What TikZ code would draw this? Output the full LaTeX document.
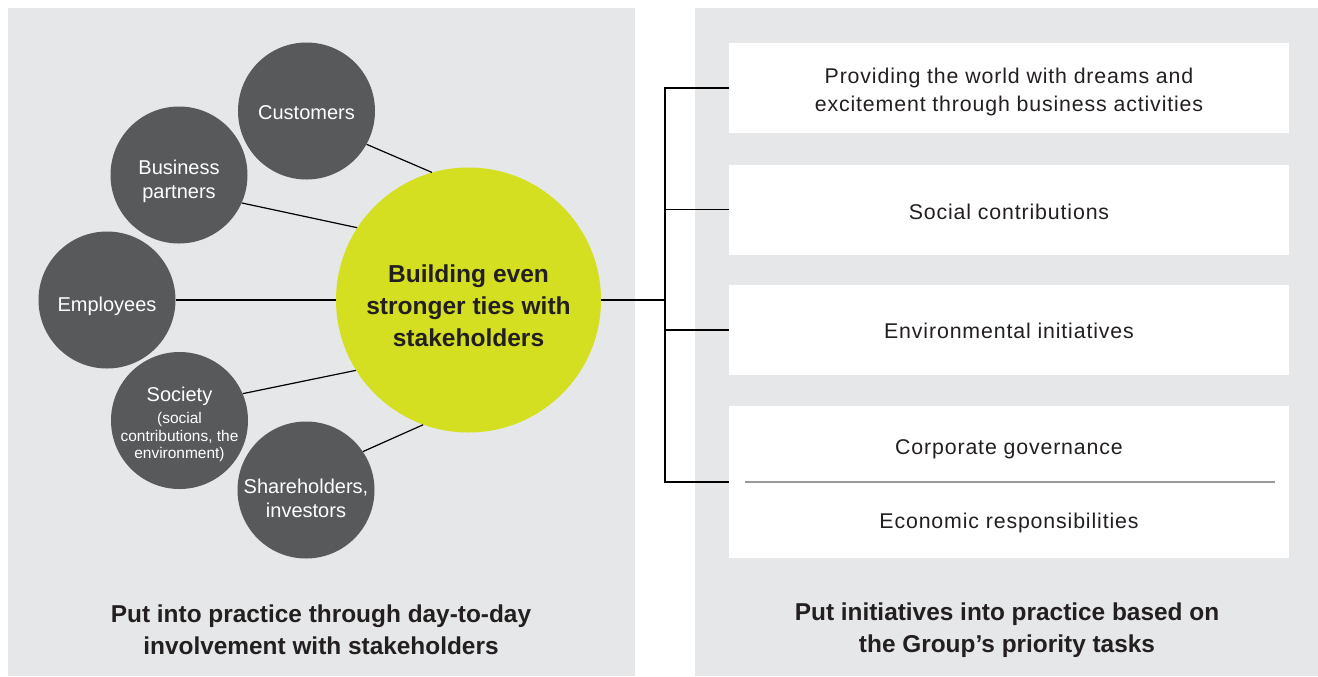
\documentclass[tikz,border=0pt]{standalone}
\usepackage{fontspec}
\setmainfont{Liberation Sans}
\newfontfamily\boxfont[LetterSpace=4]{Liberation Sans}

\definecolor{panelgray}{HTML}{E6E7E8}
\definecolor{stakegray}{HTML}{58595B}
\definecolor{hubgreen}{HTML}{D5DF22}
\definecolor{inkdark}{HTML}{231F20}
\definecolor{rulegray}{HTML}{9A9A9A}

\begin{document}
\begin{tikzpicture}[x=0.75pt,y=-0.75pt,
  stake/.style={circle, fill=stakegray, inner sep=0pt, minimum size=102.75pt},
  staketext/.style={text=white, align=center, font=\fontsize{15}{18}\selectfont},
  hubnode/.style={circle, fill=hubgreen, inner sep=0pt, minimum size=198.75pt},
  hubtext/.style={text=inkdark, align=center, font=\bfseries\fontsize{18.4}{24}\selectfont},
  taskbox/.style={rectangle, fill=white, inner sep=0pt,
    minimum width=420pt, minimum height=67.5pt},
  tasktext/.style={align=center, text=inkdark, font=\boxfont\fontsize{16}{21}\selectfont},
  caption/.style={align=center, text=inkdark, font=\bfseries\fontsize{18.3}{24}\selectfont},
  link/.style={draw=black, line width=0.9pt},
  divider/.style={draw=rulegray, line width=1.6pt}]

\useasboundingbox (0,0) rectangle (1318,676);

% two background panels
\fill[panelgray] (8,8) rectangle (634.5,676);
\fill[panelgray] (695,8) rectangle (1318,676);

% stakeholder circles around the central hub
\node[hubnode] (hub) at (468.5,300) {};
\node[stake] (cust) at (306.5,111) {};
\node[stake] (biz) at (179,175) {};
\node[stake] (emp) at (107,300) {};
\node[stake] (soc) at (179.5,420.5) {};
\node[stake] (share) at (306,490) {};

\node[hubtext] (hubl) at ([yshift=-4pt]hub.center) {Building even\\stronger ties with\\stakeholders};
\node[staketext] (custl) at ([yshift=-1.5pt]cust.center) {Customers};
\node[staketext] (bizl) at ([yshift=-5pt]biz.center) {Business\\partners};
\node[staketext] (empl) at ([yshift=-4.5pt]emp.center) {Employees};
\node[staketext, font=\fontsize{11.6}{13}\selectfont] (socl) at ([yshift=-3pt]soc.center)
  {{\fontsize{15}{18}\selectfont Society}\\[3.5pt](social\\contributions, the\\environment)};
\node[staketext] (sharel) at ([yshift=-6.5pt]share.center) {Shareholders,\\investors};

\draw[link] (cust.-29) -- (hub.106);
\draw[link] (biz.-24) -- (hub.147);
\draw[link] (emp.east) -- (hub.west);
\draw[link] (soc.23) -- (hub.212.5);
\draw[link] (share.34.5) -- (hub.250.3);

% priority task boxes
\node[taskbox] (box1) at (1009,88) {};
\node[taskbox] (box2) at (1009,209.5) {};
\node[taskbox] (box3) at (1009,330) {};
\node[taskbox, minimum height=114pt] (box4) at (1009,482) {};
\node[tasktext] (dreams) at ([yshift=-3pt]box1.center)
  {Providing the world with dreams and\\excitement through business activities};
\node[tasktext] (social) at ([yshift=-1.5pt]box2.center) {Social contributions};
\node[tasktext] (env) at ([yshift=-0.8pt]box3.center) {Environmental initiatives};
\node[tasktext] (gov) at (1009,449) {Corporate governance};
\node[tasktext] (eco) at (1009,523) {Economic responsibilities};
\draw[divider] ([xshift=12pt]box4.west) -- ([xshift=-10.5pt]box4.east);

% bracket joining the hub to the task boxes
\coordinate (trunk) at (665,300);
\draw[link] (hub.east) -- (trunk);
\draw[link] (box1.west) -- (box1.west -| trunk) -- (box4.west -| trunk) -- (box4.west);
\draw[link] (box2.west) -- (box2.west -| trunk);
\draw[link] (box3.west) -- (box3.west -| trunk);

% panel captions
\node[caption] (capL) at (321,630)
  {Put into practice through day-to-day\\involvement with stakeholders};
\node[caption] (capR) at (1007,630)
  {Put initiatives into practice based on\\the Group’s priority tasks};
\end{tikzpicture}
\end{document}
